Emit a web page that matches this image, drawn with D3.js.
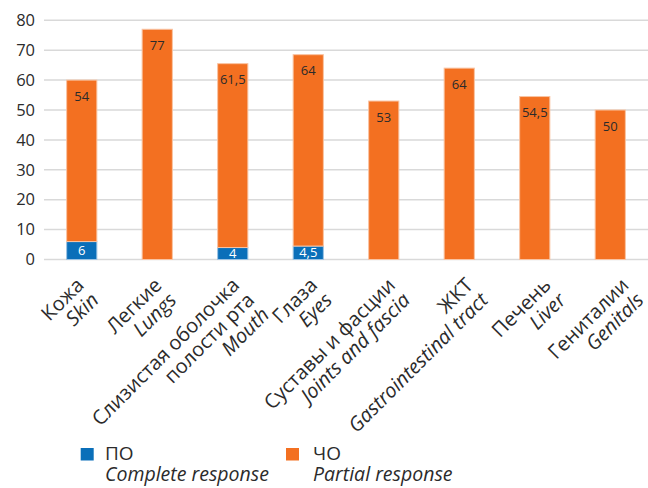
<!DOCTYPE html>
<html>
<head>
<meta charset="utf-8">
<script src="https://cdn.jsdelivr.net/npm/d3@7"></script>
<style>
  html, body { margin: 0; padding: 0; background: #fff; }
  svg { display: block; font-family: "Open Sans", "Noto Sans", sans-serif; }
</style>
</head>
<body>
<svg id="chart" width="648" height="488"></svg>
<script>
// Organ involvement: complete (ПО) and partial (ЧО) response
const categoriesRu = ["Кожа", "Легкие", "Слизистая оболочка\nполости рта", "Глаза",
  "Суставы и фасции", "ЖКТ", "Печень", "Гениталии"];
const categoriesEn = ["Skin", "Lungs", "Mouth", "Eyes",
  "Joints and fascia", "Gastrointestinal tract", "Liver", "Genitals"];
const completeResponse = [6, 0, 4, 4.5, 0, 0, 0, 0];
const partialResponse = [54, 77, 61.5, 64, 53, 64, 54.5, 50];
const yTicks = [0, 10, 20, 30, 40, 50, 60, 70, 80];
const seriesNames = ["ПО", "ЧО"];
const seriesNamesEn = ["Complete response", "Partial response"];
const seriesColors = ["#0a6fb9", "#f37021"];

const svg = d3.select("#chart");
const textColor = "#2b2b2b";

const x = d3.scaleBand()
  .domain(d3.range(categoriesRu.length))
  .range([44, 648])
  .paddingInner(0.6)
  .paddingOuter(0.3);

// anchor points for the slanted category captions
const xLabel = d3.scalePoint()
  .domain(d3.range(categoriesRu.length))
  .range([85, 630]);

const y = d3.scaleLinear().domain([0, 80]).range([259.5, 20.3]);

// gridlines
svg.append("g")
  .selectAll("line")
  .data(yTicks)
  .join("line")
  .attr("x1", 44).attr("x2", 648)
  .attr("y1", d => y(d)).attr("y2", d => y(d))
  .attr("stroke", "#d9d9d9")
  .attr("stroke-width", 1.5);

// y axis labels
const yAxis = d3.axisLeft(y).tickValues(yTicks).tickSize(0).tickPadding(0);
const yg = svg.append("g").attr("transform", "translate(35,0)").call(yAxis);
yg.select(".domain").remove();
yg.selectAll("text")
  .attr("font-size", 16.5)
  .attr("fill", textColor)
  .attr("font-family", "'Open Sans', sans-serif");

// stacked bars
const stackData = categoriesRu.map((c, i) => ({ i, c: completeResponse[i], p: partialResponse[i] }));
const stack = d3.stack().keys(["c", "p"])(stackData);

const fmt = v => String(v).replace(".", ",");

stack.forEach((layer, k) => {
  const g = svg.append("g");
  g.selectAll("rect")
    .data(layer.filter(d => d[1] - d[0] > 0))
    .join("rect")
    .attr("x", d => x(d.data.i))
    .attr("width", x.bandwidth())
    .attr("y", d => y(d[1]))
    .attr("height", d => y(d[0]) - y(d[1]))
    .attr("fill", seriesColors[k])
    .attr("stroke", k === 0 ? "#9cc3e3" : "#f9c3a2")
    .attr("stroke-width", 1);

  g.selectAll("text")
    .data(layer.filter(d => d[1] - d[0] > 0))
    .join("text")
    .attr("x", d => x(d.data.i) + x.bandwidth() / 2)
    .attr("y", d => k === 0 ? (y(d[0]) + y(d[1])) / 2 : y(d[1]) + 16)
    .attr("dy", "0.35em")
    .attr("text-anchor", "middle")
    .attr("font-size", 13)
    .attr("fill", k === 0 ? "#ffffff" : textColor)
    .text(d => fmt(d[1] - d[0]));
});

// rotated category labels
const labels = svg.append("g")
  .selectAll("g")
  .data(categoriesRu.map((ru, i) => ({ i, lines: ru.split("\n"), en: categoriesEn[i] })))
  .join("g")
  .attr("transform", d => `translate(${xLabel(d.i)},286.5) rotate(-45)`);

labels.each(function (d) {
  const t = d3.select(this).append("text")
    .attr("text-anchor", "end")
    .attr("font-size", 20)
    .attr("fill", textColor);
  const all = d.lines.map(s => ({ s, it: false })).concat([{ s: d.en, it: true }]);
  all.forEach((ln, j) => {
    t.append("tspan")
      .attr("x", 0)
      .attr("y", j * 21)
      .attr("font-style", ln.it ? "italic" : "normal")
      .text(ln.s);
  });
});

// legend: swatch plus a two-line caption (Russian name, English name in italics)
const legendX = [80.7, 286];
const legendTextX = [105, 313];
const lg = svg.append("g")
  .selectAll("g")
  .data(seriesNames)
  .join("g")
  .attr("transform", (d, i) => `translate(${legendX[i]},448)`);
lg.append("rect")
  .attr("width", 13).attr("height", 12.5)
  .attr("fill", (d, i) => seriesColors[i]);
const lgText = lg.append("text")
  .attr("fill", textColor);
lgText.append("tspan")
  .attr("x", (d, i) => legendTextX[i] - legendX[i]).attr("y", 11.5)
  .attr("font-size", 19)
  .text(d => d);
lgText.append("tspan")
  .attr("x", (d, i) => legendTextX[i] - legendX[i]).attr("y", 32.5)
  .attr("font-size", 19.5)
  .attr("font-style", "italic")
  .text((d, i) => seriesNamesEn[i]);
</script>
</body>
</html>
